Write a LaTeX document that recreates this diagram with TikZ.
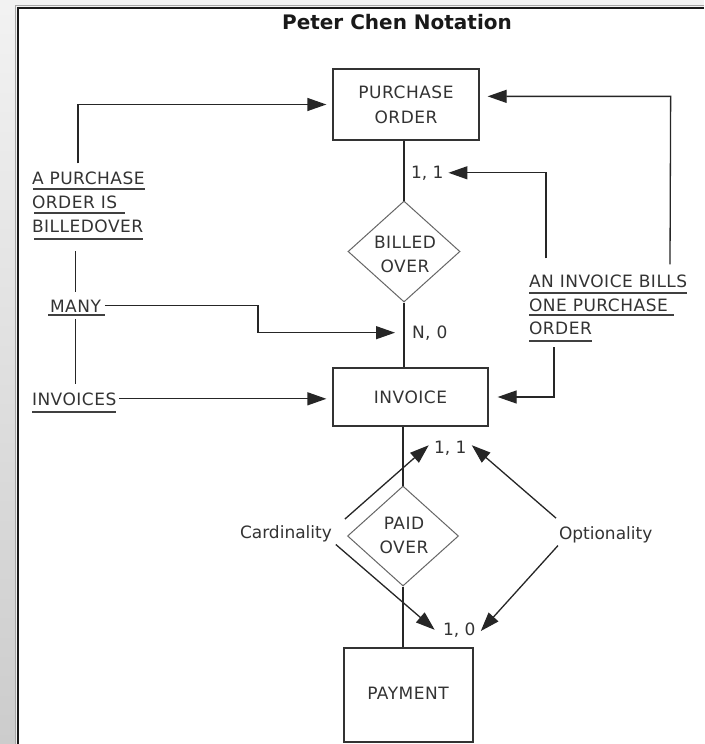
\documentclass[tikz,border=0pt]{standalone}
\usepackage{fontspec}
\setmainfont{DejaVu Sans}
% capitals are set slightly looser than running text
\newfontfamily\capsfont[LetterSpace=3]{DejaVu Sans}
\usetikzlibrary{arrows.meta,shapes.geometric,calc}

\tikzset{
  txt/.style={inner sep=0pt, outer sep=0pt, text=black!80,
    font=\fontsize{17}{24}\selectfont, anchor=base west},
  capstxt/.style={txt, font=\capsfont\fontsize{17}{24}\selectfont},
  entity/.style={rectangle, draw=black!80, line width=1.3pt, inner sep=0pt,
    text=black!80, font=\capsfont\fontsize{17}{25}\selectfont, align=center},
  rel/.style={diamond, draw=black!60, line width=1pt, inner sep=0pt},
  reltxt/.style={inner sep=0pt, text=black!80, font=\capsfont\fontsize{17}{24}\selectfont, align=center},
  link/.style={draw=black!85, line width=1.3pt},
  arr/.style={link, -{Triangle[length=19pt,width=13pt]}},
  uline/.style={draw=black!75, line width=1.2pt},
}

\begin{document}
\begin{tikzpicture}[x=1pt, y=-1pt]
\useasboundingbox (0,0) rectangle (704,744);

% page background and frame
\fill[black!5] (0,0) rectangle (704,744);
\shade[top color=black!5, bottom color=black!20] (0,0) rectangle (16,744);
\fill[white] (17,7) rectangle (704,744);
\draw[black!35, line width=1pt] (15.5,744) -- (15.5,5.5) -- (704,5.5);
\draw[black!90, line width=2pt] (17.5,744) -- (17.5,7.5) -- (704,7.5);

% title
\node[text=black!90, font=\fontsize{20}{24}\selectfont\bfseries] (title) at (397,22) {Peter Chen Notation};

% entities
\node[entity, minimum width=146pt, minimum height=71pt] (po)  at (406,104.5) {PURCHASE\\ORDER};
\node[entity, minimum width=155pt, minimum height=58pt] (inv) at (410.5,397) {INVOICE};
\node[entity, minimum width=129pt, minimum height=94pt] (pay) at (408.5,695) {};
\node[reltxt] at (408,693) {PAYMENT};

% relationships
\node[rel, minimum width=112pt, minimum height=101pt] (bo) at (404,251.5) {};
\node[reltxt] at (405,254.5) {BILLED\\OVER};
\node[rel, minimum width=111pt, minimum height=100pt] (pd) at (403,536) {};
\node[reltxt] at (404,535) {PAID\\OVER};

% cardinality labels
\node[txt] (c11a) at (411,178) {1, 1};
\node[capstxt] (n0) at (412,338) {N, 0};
\node[txt] (c11b) at (434,453) {1, 1};
\node[txt] (c10)  at (443,635) {1, 0};
\node[txt] (card) at (240,538) {Cardinality};
\node[txt] (opt)  at (559,539) {Optionality};

% left annotation
\node[capstxt] (lp1)  at (32,184) {A PURCHASE};
\node[capstxt] (lp2)  at (32,208) {ORDER IS};
\node[capstxt] (lp3)  at (32,232) {BILLEDOVER};
\node[capstxt] (many) at (50,312) {MANY};
\node[capstxt] (invs) at (32,405) {INVOICES};

% right annotation
\node[capstxt] (ri1) at (529,287) {AN INVOICE BILLS};
\node[capstxt] (ri2) at (529,311) {ONE PURCHASE};
\node[capstxt] (ri3) at (529,334) {ORDER};

% underlines
\draw[uline] ($(lp1.base west)+(1,5)$) -- ($(lp1.base east)+(0,5)$);
\draw[uline] ($(lp2.base west)+(2,5)$) -- ($(lp2.base east)+(8,5)$);
\draw[uline] ($(lp3.base west)+(2,7)$) -- ($(lp3.base east)+(0,7)$);
\draw[uline] ($(many.base west)+(-2,3)$) -- ($(many.base east)+(4,3)$);
\draw[uline] ($(invs.base west)+(0,7)$) -- ($(invs.base east)+(0,7)$);
\draw[uline] ($(ri1.base west)+(0,6)$) -- ($(ri1.base east)+(0,6)$);
\draw[uline] ($(ri2.base west)+(0,4)$) -- ($(ri2.base east)+(6,4)$);
\draw[uline] ($(ri3.base west)+(0,7)$) -- ($(ri3.base east)+(0,7)$);

% relationship lines
\draw[link] (po.south -| bo.north) -- (bo.north);
\draw[link] (bo.south) -- (inv.north -| bo.south);
\draw[link] (inv.south -| pd.north) -- (pd.north);
\draw[link] (pd.south) -- (pay.north -| pd.south);

% left side connectors
\draw[arr, shorten >=6pt] ($(lp1.north west)+(46,-8)$) |- (po.west);
\draw[link] ($(lp3.base -| many.north)+(0,19)$) -- ($(many.north)+(0,-8)$);
\draw[link] ($(many.south)+(0,7)$) -- ($(invs.north -| many.north)+(0,-8)$);
\coordinate (kx) at (258,0);
\draw[arr, shorten <=4pt, shorten >=17pt] (many.east) -- (many.east -| kx) |- (n0.west);
\draw[arr, shorten <=3pt, shorten >=6pt] (invs.east) -- (invs.east -| inv.west);

% right side connectors
\coordinate (rc) at ($(po.north east)+(191,28)$);
\draw[arr, shorten >=8pt] ($(ri1.north west)+(141,-10)$) -- (rc) -- (rc -| po.east);
\draw[arr, shorten >=5pt] ($(ri1.north west)+(17,-16)$) |- (c11a.east);
\draw[arr, shorten >=9pt] ($(ri3.base west)+(25,13)$) |- (inv.east);

% cardinality / optionality pointers
\draw[arr, shorten >=7pt]  ($(card.north east)+(13,-6)$) -- (c11b.north west);
\draw[arr, shorten >=11pt] ($(card.south east)+(4,3)$) -- (c10.south west);
\draw[arr, shorten >=7pt]  ($(opt.north west)+(-3,-8)$) -- (c11b.north east);
\draw[arr, shorten >=8pt]  ($(opt.south west)+(-1,3)$) -- (c10.south east);
\end{tikzpicture}
\end{document}
